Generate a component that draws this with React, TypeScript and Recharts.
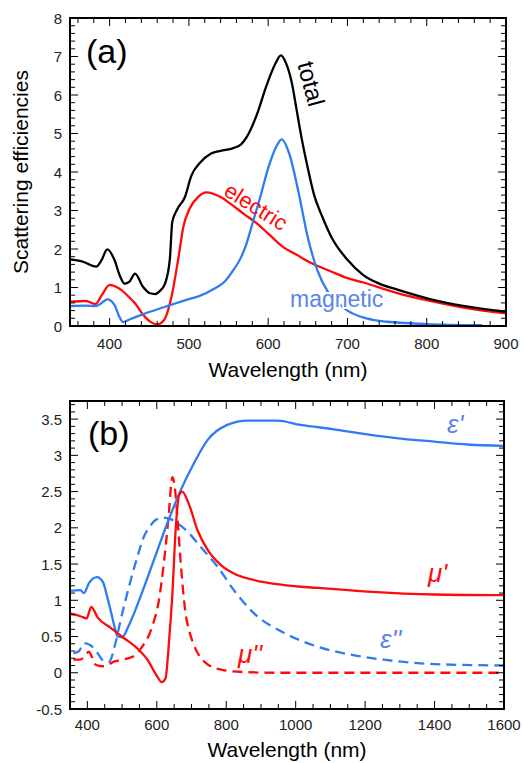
import React from "react";
import { LineChart, Line, XAxis, YAxis } from "recharts";

// ---- panel (a): scattering efficiencies ----
const totalWl = [350, 365, 383, 390, 397, 406, 413, 419, 425, 432, 442, 451, 457, 463, 470, 476, 479, 485, 495, 503, 514, 528, 540, 556, 566, 573, 585, 598, 609, 616, 623, 630, 636, 642, 650, 658, 668, 680, 700, 720, 740, 762, 804, 846, 900];
const totalQ = [1.73, 1.68, 1.54, 1.72, 1.99, 1.72, 1.3, 1.1, 1.15, 1.36, 1.02, 0.85, 0.83, 0.9, 1.11, 1.75, 2.7, 3.02, 3.35, 3.9, 4.24, 4.48, 4.55, 4.62, 4.72, 4.91, 5.45, 6.25, 6.81, 7.03, 6.8, 6.3, 5.6, 4.9, 4.1, 3.4, 2.85, 2.3, 1.72, 1.32, 1.1, 0.95, 0.7, 0.52, 0.37];

const elecWl = [350, 370, 382, 390, 400, 408, 415, 423, 432, 444, 452, 459, 465, 470, 478, 487, 493, 501, 512, 522, 530, 540, 556, 570, 585, 600, 619, 636, 653, 678, 699, 720, 762, 804, 846, 900];
const elecQ = [0.63, 0.65, 0.57, 0.8, 1.07, 1.02, 0.93, 0.78, 0.59, 0.25, 0.1, 0.04, 0.08, 0.2, 0.76, 1.8, 2.58, 3.05, 3.36, 3.47, 3.44, 3.35, 3.12, 2.9, 2.68, 2.4, 2.05, 1.85, 1.65, 1.43, 1.25, 1.13, 0.86, 0.65, 0.48, 0.33];

const magWl = [350, 370, 383, 390, 397, 406, 412, 417, 425, 440, 470, 500, 512, 533, 545, 556, 565, 572, 580, 590, 600, 610, 617, 627, 638, 650, 662, 675, 688, 700, 724, 750, 800, 870];
const magQ = [0.52, 0.53, 0.52, 0.6, 0.69, 0.55, 0.25, 0.1, 0.17, 0.29, 0.5, 0.7, 0.77, 0.98, 1.15, 1.45, 1.75, 2.1, 2.65, 3.35, 4.1, 4.65, 4.85, 4.45, 3.5, 2.3, 1.45, 0.9, 0.6, 0.4, 0.2, 0.11, 0.05, 0.02];

// ---- panel (b): effective permittivity / permeability ----
const epsRWl = [350, 380, 390, 405, 428, 445, 457, 470, 480, 487, 500, 520, 553, 592, 630, 669, 707, 746, 803, 861, 947, 1014, 1110, 1206, 1303, 1399, 1495, 1600];
const epsRV = [1.13, 1.14, 1.1, 1.24, 1.32, 1.25, 1.05, 0.8, 0.6, 0.5, 0.49, 0.66, 1.05, 1.56, 2.06, 2.52, 2.89, 3.21, 3.42, 3.48, 3.48, 3.42, 3.36, 3.29, 3.23, 3.19, 3.15, 3.13];

const epsIWl = [360, 376, 390, 409, 428, 448, 462, 481, 496, 520, 544, 563, 580, 601, 620, 640, 660, 688, 726, 774, 822, 880, 967, 1063, 1158, 1254, 1399, 1600];
const epsIV = [0.27, 0.3, 0.41, 0.38, 0.28, 0.16, 0.15, 0.41, 0.73, 1.19, 1.6, 1.88, 2.02, 2.12, 2.14, 2.12, 2.06, 1.95, 1.74, 1.47, 1.14, 0.82, 0.55, 0.36, 0.25, 0.18, 0.12, 0.1];

const muRWl = [350, 380, 398, 411, 430, 467, 505, 543, 573, 601, 614, 625, 635, 645, 654, 664, 673, 693, 717, 746, 784, 822, 880, 967, 1063, 1207, 1399, 1600];
const muRV = [0.82, 0.78, 0.75, 0.91, 0.76, 0.62, 0.48, 0.34, 0.18, -0.05, -0.13, -0.08, 0.42, 1.1, 1.95, 2.45, 2.5, 2.32, 1.97, 1.7, 1.49, 1.37, 1.28, 1.21, 1.17, 1.12, 1.08, 1.07];

const muIWl = [360, 378, 395, 404, 424, 443, 481, 530, 558, 587, 606, 620, 633, 645, 652, 660, 670, 682, 695, 707, 740, 788, 850, 950, 1600];
const muIV = [0.18, 0.18, 0.24, 0.29, 0.11, 0.09, 0.16, 0.22, 0.36, 0.64, 1.0, 1.5, 2.1, 2.7, 2.55, 2.1, 1.45, 0.85, 0.55, 0.38, 0.14, 0.04, 0.01, 0, 0];

// ticks
const aXMajor = [400, 500, 600, 700, 800, 900];
const aYMajor = [0, 1, 2, 3, 4, 5, 6, 7, 8];
const bXMajor = [400, 600, 800, 1000, 1200, 1400, 1600];
const bYMajor = [-0.5, 0, 0.5, 1, 1.5, 2, 2.5, 3, 3.5];

const range = (a: number, b: number, s: number) => {
  const out: number[] = [];
  for (let v = a; v <= b + 1e-9; v += s) out.push(Math.round(v * 1000) / 1000);
  return out;
};
const aXAll = range(360, 900, 20);
const aYAll = range(0, 8, 0.2);
const bXAll = range(350, 1600, 50);
const bYAll = range(-0.5, 3.7, 0.1);

const zip = (w: number[], v: number[]) => w.map((x, i) => ({ w: x, v: v[i] }));

const FONT = '"Liberation Sans", Arial, sans-serif';
const RED = "#ff0a0a";
const BLUE = "#2f7bf2";
const BLUE_TXT = "#5a84ea";

// plot boxes on the page, shared by the chart margins and the frame overlay
type Box = { top: number; left: number; right: number; bottom: number; x0: number; x1: number; y0: number; y1: number; chartTop: number; chartH: number };
const boxA: Box = { top: 18, left: 70, right: 506, bottom: 326, x0: 350, x1: 900, y0: 0, y1: 8, chartTop: 0, chartH: 385 };
const boxB: Box = { top: 401, left: 70, right: 504, bottom: 709, x0: 350, x1: 1600, y0: -0.5, y1: 3.75, chartTop: 385, chartH: 378 };

const isIn = (list: number[], v: number) => list.some((m) => Math.abs(m - v) < 1e-6);

const xLabel = (gap: number) => (props: any) => (
  <text x={props.x} y={props.y + gap} textAnchor="middle" fontSize={15} fill="#222" fontFamily={FONT}>
    {String(props.payload.value)}
  </text>
);
const yLabel = (gap: number) => (props: any) => (
  <text x={props.x - gap} y={props.y + 5.5} textAnchor="end" fontSize={15} fill="#222" fontFamily={FONT}>
    {String(props.payload.value)}
  </text>
);

const series = (data: { w: number; v: number }[], color: string, key: string, dashed = false) => (
  <Line key={key} xAxisId="x" yAxisId="y" data={data} dataKey="v" type="monotone" stroke={color}
    strokeWidth={2.3} strokeDasharray={dashed ? "10 6" : undefined} dot={false} isAnimationActive={false} />
);

function Panel({ box, xMaj, yMaj, xGap, children }: { box: Box; xMaj: number[]; yMaj: number[]; xGap: number; children: React.ReactNode }) {
  const margin = {
    top: box.top - box.chartTop,
    right: 524 - box.right,
    left: 0,
    bottom: box.chartTop + box.chartH - box.bottom - 40,
  };
  return (
    <div style={{ position: "absolute", left: 0, top: box.chartTop }}>
      <LineChart width={524} height={box.chartH} margin={margin}>
        <XAxis xAxisId="x" type="number" dataKey="w" domain={[box.x0, box.x1]} ticks={xMaj} interval={0}
          allowDataOverflow height={40} tickLine={false} tickSize={0} tickMargin={0} axisLine={false} tick={xLabel(xGap)} />
        <YAxis yAxisId="y" type="number" domain={[box.y0, box.y1]} ticks={yMaj} interval={0}
          allowDataOverflow width={box.left} tickLine={false} tickSize={0} tickMargin={0} axisLine={false} tick={yLabel(8)} />
        {children}
      </LineChart>
    </div>
  );
}

// frame with inward major/minor ticks on all four sides
function Frame({ box, xMaj, xAll, yMaj, yAll }: { box: Box; xMaj: number[]; xAll: number[]; yMaj: number[]; yAll: number[] }) {
  const px = (v: number) => box.left + ((v - box.x0) / (box.x1 - box.x0)) * (box.right - box.left);
  const py = (v: number) => box.bottom - ((v - box.y0) / (box.y1 - box.y0)) * (box.bottom - box.top);
  const segs: string[] = [];
  xAll.forEach((v) => {
    const L = isIn(xMaj, v) ? 8 : 5;
    const x = px(v);
    segs.push(`M${x},${box.bottom}v${-L}`, `M${x},${box.top}v${L}`);
  });
  yAll.forEach((v) => {
    const L = isIn(yMaj, v) ? 8 : 5;
    const y = py(v);
    segs.push(`M${box.left},${y}h${L}`, `M${box.right},${y}h${-L}`);
  });
  return (
    <g>
      <path d={segs.join("")} stroke="#000" strokeWidth={1} fill="none" />
      <rect x={box.left} y={box.top} width={box.right - box.left} height={box.bottom - box.top}
        fill="none" stroke="#000" strokeWidth={2} />
    </g>
  );
}

export default function App() {
  return (
    <div style={{ position: "absolute", left: 0, top: 0, width: 524, height: 763 }}>
      <Panel box={boxA} xMaj={aXMajor} yMaj={aYMajor} xGap={23}>
        {series(zip(elecWl, elecQ), RED, "elec")}
        {series(zip(magWl, magQ), BLUE, "mag")}
        {series(zip(totalWl, totalQ), "#000", "total")}
      </Panel>
      <Panel box={boxB} xMaj={bXMajor} yMaj={bYMajor} xGap={21}>
        {series(zip(epsIWl, epsIV), BLUE, "epsI", true)}
        {series(zip(muIWl, muIV), RED, "muI", true)}
        {series(zip(epsRWl, epsRV), BLUE, "epsR")}
        {series(zip(muRWl, muRV), RED, "muR")}
      </Panel>
      <svg width={524} height={763} style={{ position: "absolute", left: 0, top: 0, pointerEvents: "none" }}
        fontFamily={FONT}>
        <Frame box={boxA} xMaj={aXMajor} xAll={aXAll} yMaj={aYMajor} yAll={aYAll} />
        <Frame box={boxB} xMaj={bXMajor} xAll={bXAll} yMaj={bYMajor} yAll={bYAll} />
        <text x={86} y={63} fontSize={34} fill="#000">(a)</text>
        <text x={88} y={445} fontSize={34} fill="#000">(b)</text>
        <text x={28} y={172} fontSize={21} textAnchor="middle" transform="rotate(-90 28 172)" fill="#000">
          Scattering efficiencies
        </text>
        <text x={288} y={377} fontSize={21} textAnchor="middle" fill="#000">Wavelength (nm)</text>
        <text x={287} y={757} fontSize={21} textAnchor="middle" fill="#000">Wavelength (nm)</text>
        <text x={303} y={86} fontSize={24} textAnchor="middle" transform="rotate(75 303 86)" fill="#000">total</text>
        <text x={252} y={213} fontSize={22} textAnchor="middle" transform="rotate(32 252 213)" fill={RED}>electric</text>
        <text x={290} y={307} fontSize={23} fill={BLUE_TXT} stroke="#fff" strokeWidth={4} paintOrder="stroke">magnetic</text>
        <text x={447} y={433} fontSize={26} fontStyle="italic" fill={BLUE_TXT}>ε'</text>
        <text x={428} y={582} fontSize={26} fontStyle="italic" fill={RED}>μ'</text>
        <text x={380} y={648} fontSize={26} fontStyle="italic" fill={BLUE_TXT}>ε''</text>
        <text x={238} y={663} fontSize={26} fontStyle="italic" fill={RED}>μ''</text>
      </svg>
    </div>
  );
}
